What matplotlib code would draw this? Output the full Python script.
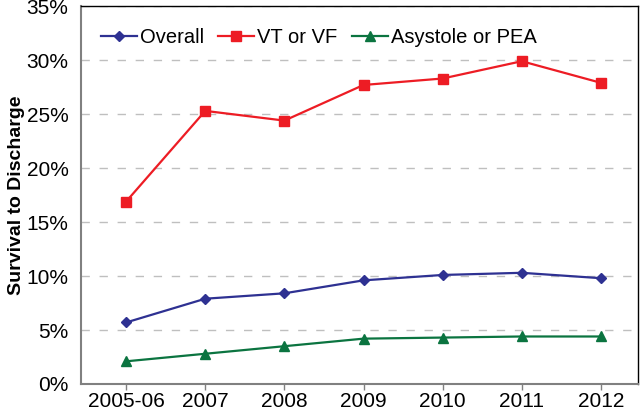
import matplotlib.pyplot as plt
from matplotlib.ticker import PercentFormatter

years = ['2005-06', '2007', '2008', '2009', '2010', '2011', '2012']
overall = [5.7, 7.9, 8.4, 9.6, 10.1, 10.3, 9.8]
vt_vf = [16.9, 25.3, 24.4, 27.7, 28.3, 29.9, 27.9]
asystole = [2.1, 2.8, 3.5, 4.2, 4.3, 4.4, 4.4]

plt.rcParams['font.family'] = ['Liberation Sans', 'DejaVu Sans']

fig = plt.figure(figsize=(6.4, 4.12), dpi=100)
ax = fig.add_axes([0.1266, 0.068, 0.8704, 0.917])

x = range(len(years))
ax.plot(x, overall, color='#2E3192', marker='D', markersize=5.5, lw=1.6, label='Overall')
ax.plot(x, vt_vf, color='#ED1C24', marker='s', markersize=7.5, lw=1.6, label='VT or VF')
ax.plot(x, asystole, color='#0B7440', marker='^', markersize=7.5, lw=1.6, label='Asystole or PEA')

ax.set_xlim(-0.57, 6.47)
ax.set_ylim(0, 35)
ax.set_yticks(range(0, 36, 5))
ax.yaxis.set_major_formatter(PercentFormatter(decimals=0))
ax.set_xticks(list(x))
ax.set_xticklabels(years)
ax.tick_params(axis='y', length=0, pad=9, labelsize=15)
ax.tick_params(axis='x', length=4, width=1, color='#808080', pad=2, labelsize=15)

ax.grid(axis='y', color='#BFBFBF', linestyle=(0, (6, 7)), linewidth=1)
ax.set_axisbelow(True)
for s in ['left', 'bottom']:
    ax.spines[s].set_color('#808080')
    ax.spines[s].set_linewidth(1.5)
for s in ['top', 'right']:
    ax.spines[s].set_color('black')
    ax.spines[s].set_linewidth(1)

ax.set_ylabel('Survival to Discharge', fontsize=14, fontweight='bold')
ax.yaxis.set_label_coords(-0.1, 0.5)

ax.legend(loc='upper left', ncol=3, frameon=False, fontsize=14.5, handlelength=1.8,
          handletextpad=0.15, columnspacing=0.7, borderaxespad=0.3,
          bbox_to_anchor=(0.01, 0.98))

fig.savefig('out.png', dpi=100)
